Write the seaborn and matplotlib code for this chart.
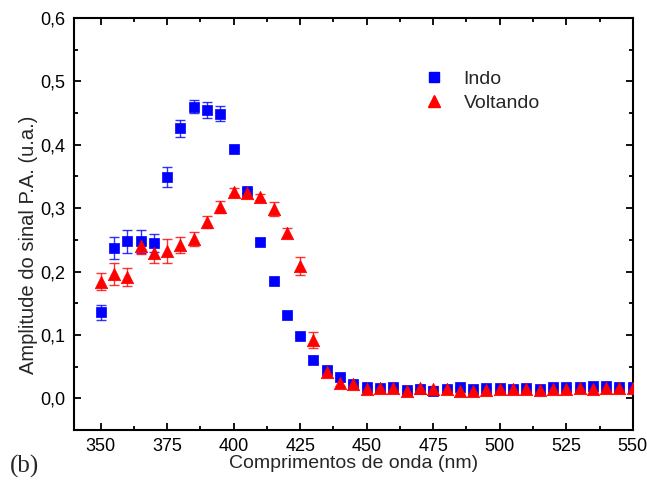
import numpy as np
import pandas as pd
import matplotlib
matplotlib.use("Agg")
import matplotlib.pyplot as plt
import seaborn as sns
from matplotlib.ticker import MultipleLocator, FuncFormatter
from matplotlib.lines import Line2D

wavelength = list(range(350, 551, 5))

indo = [0.136, 0.237, 0.248, 0.248, 0.245, 0.349, 0.426, 0.460, 0.455, 0.449,
        0.393, 0.327, 0.247, 0.185, 0.131, 0.098, 0.061, 0.045, 0.034, 0.022,
        0.018, 0.016, 0.018, 0.013, 0.015, 0.011, 0.015, 0.018, 0.015, 0.016,
        0.016, 0.015, 0.017, 0.015, 0.018, 0.018, 0.018, 0.019, 0.019, 0.018, 0.018]
indo_err = [0.012, 0.017, 0.018, 0.018, 0.014, 0.016, 0.013, 0.010, 0.013, 0.012,
            0.003, 0.003, 0.003, 0.002, 0.002, 0.002, 0.006, 0.004, 0.002, 0.002,
            0.002, 0.002, 0.002, 0.002, 0.002, 0.002, 0.002, 0.002, 0.002, 0.002,
            0.002, 0.002, 0.002, 0.002, 0.002, 0.002, 0.002, 0.002, 0.002, 0.002, 0.002]

voltando = [0.184, 0.196, 0.191, 0.240, 0.229, 0.233, 0.242, 0.252, 0.278, 0.302,
            0.326, 0.324, 0.318, 0.298, 0.261, 0.209, 0.092, 0.042, 0.024, 0.022,
            0.014, 0.016, 0.017, 0.012, 0.017, 0.015, 0.014, 0.012, 0.012, 0.013,
            0.014, 0.014, 0.015, 0.013, 0.015, 0.015, 0.016, 0.015, 0.016, 0.016, 0.016]
voltando_err = [0.013, 0.018, 0.014, 0.013, 0.016, 0.019, 0.013, 0.011, 0.010, 0.010,
                0.006, 0.007, 0.005, 0.011, 0.007, 0.014, 0.013, 0.006, 0.004, 0.003,
                0.004, 0.004, 0.004, 0.004, 0.004, 0.004, 0.004, 0.004, 0.004, 0.004,
                0.004, 0.004, 0.004, 0.004, 0.004, 0.004, 0.004, 0.004, 0.004, 0.004, 0.004]

series_names = ["Indo", "Voltando"]
colors = {"Indo": "#0000FF", "Voltando": "#FF0000"}
markers = {"Indo": "s", "Voltando": "^"}

df = pd.concat([
    pd.DataFrame({"wl": wavelength, "val": indo, "err": indo_err, "serie": "Indo"}),
    pd.DataFrame({"wl": wavelength, "val": voltando, "err": voltando_err, "serie": "Voltando"}),
])

sns.set_style("ticks")
plt.rcParams["font.family"] = ["Liberation Sans", "DejaVu Sans"]

fig = plt.figure(figsize=(6.47, 4.92), dpi=100)
ax = fig.add_axes([0.1144, 0.126, 0.8636, 0.8374])

for name in series_names:
    sub = df[df["serie"] == name]
    ax.errorbar(sub["wl"], sub["val"], yerr=sub["err"], fmt="none",
                ecolor=colors[name], elinewidth=1.0, capsize=3.5, capthick=1.0,
                alpha=0.8, zorder=2)
    sns.scatterplot(data=sub, x="wl", y="val", marker=markers[name],
                    color=colors[name], s=60 if name == "Indo" else 80,
                    edgecolor=colors[name], linewidth=0.5, ax=ax, zorder=3,
                    legend=False)

ax.set_xlim(340, 550)
ax.set_ylim(-0.05, 0.6)
ax.xaxis.set_major_locator(MultipleLocator(25))
ax.xaxis.set_minor_locator(MultipleLocator(12.5))
ax.yaxis.set_major_locator(MultipleLocator(0.1))
ax.yaxis.set_minor_locator(MultipleLocator(0.05))
ax.yaxis.set_major_formatter(FuncFormatter(lambda v, p: f"{v:.1f}".replace(".", ",")))
ax.tick_params(which="both", direction="in", top=True, right=True, width=1.3,
               colors="black", labelsize=13)
ax.tick_params(which="major", length=5, pad=6)
ax.tick_params(which="minor", length=3)
for sp in ax.spines.values():
    sp.set_linewidth(1.5)
    sp.set_color("black")

ax.set_xlabel("Comprimentos de onda (nm)", fontsize=14, labelpad=0)
ax.set_ylabel("Amplitude do sinal P.A. (u.a.)", fontsize=14.5)
ax.yaxis.set_label_coords(-0.064, 0.45)

handles = [Line2D([], [], linestyle="none", marker=markers[n], color=colors[n],
                  markersize=7 if n == "Indo" else 9) for n in series_names]
ax.legend(handles, series_names, loc="upper left", bbox_to_anchor=(0.579, 0.915),
          frameon=False, fontsize=14, handletextpad=0.5, labelspacing=0.3,
          borderpad=0.4)

fig.text(0.015, 0.04, "(b)", fontsize=18, family=["Liberation Serif", "DejaVu Serif"])

fig.savefig("out.png", dpi=100)
